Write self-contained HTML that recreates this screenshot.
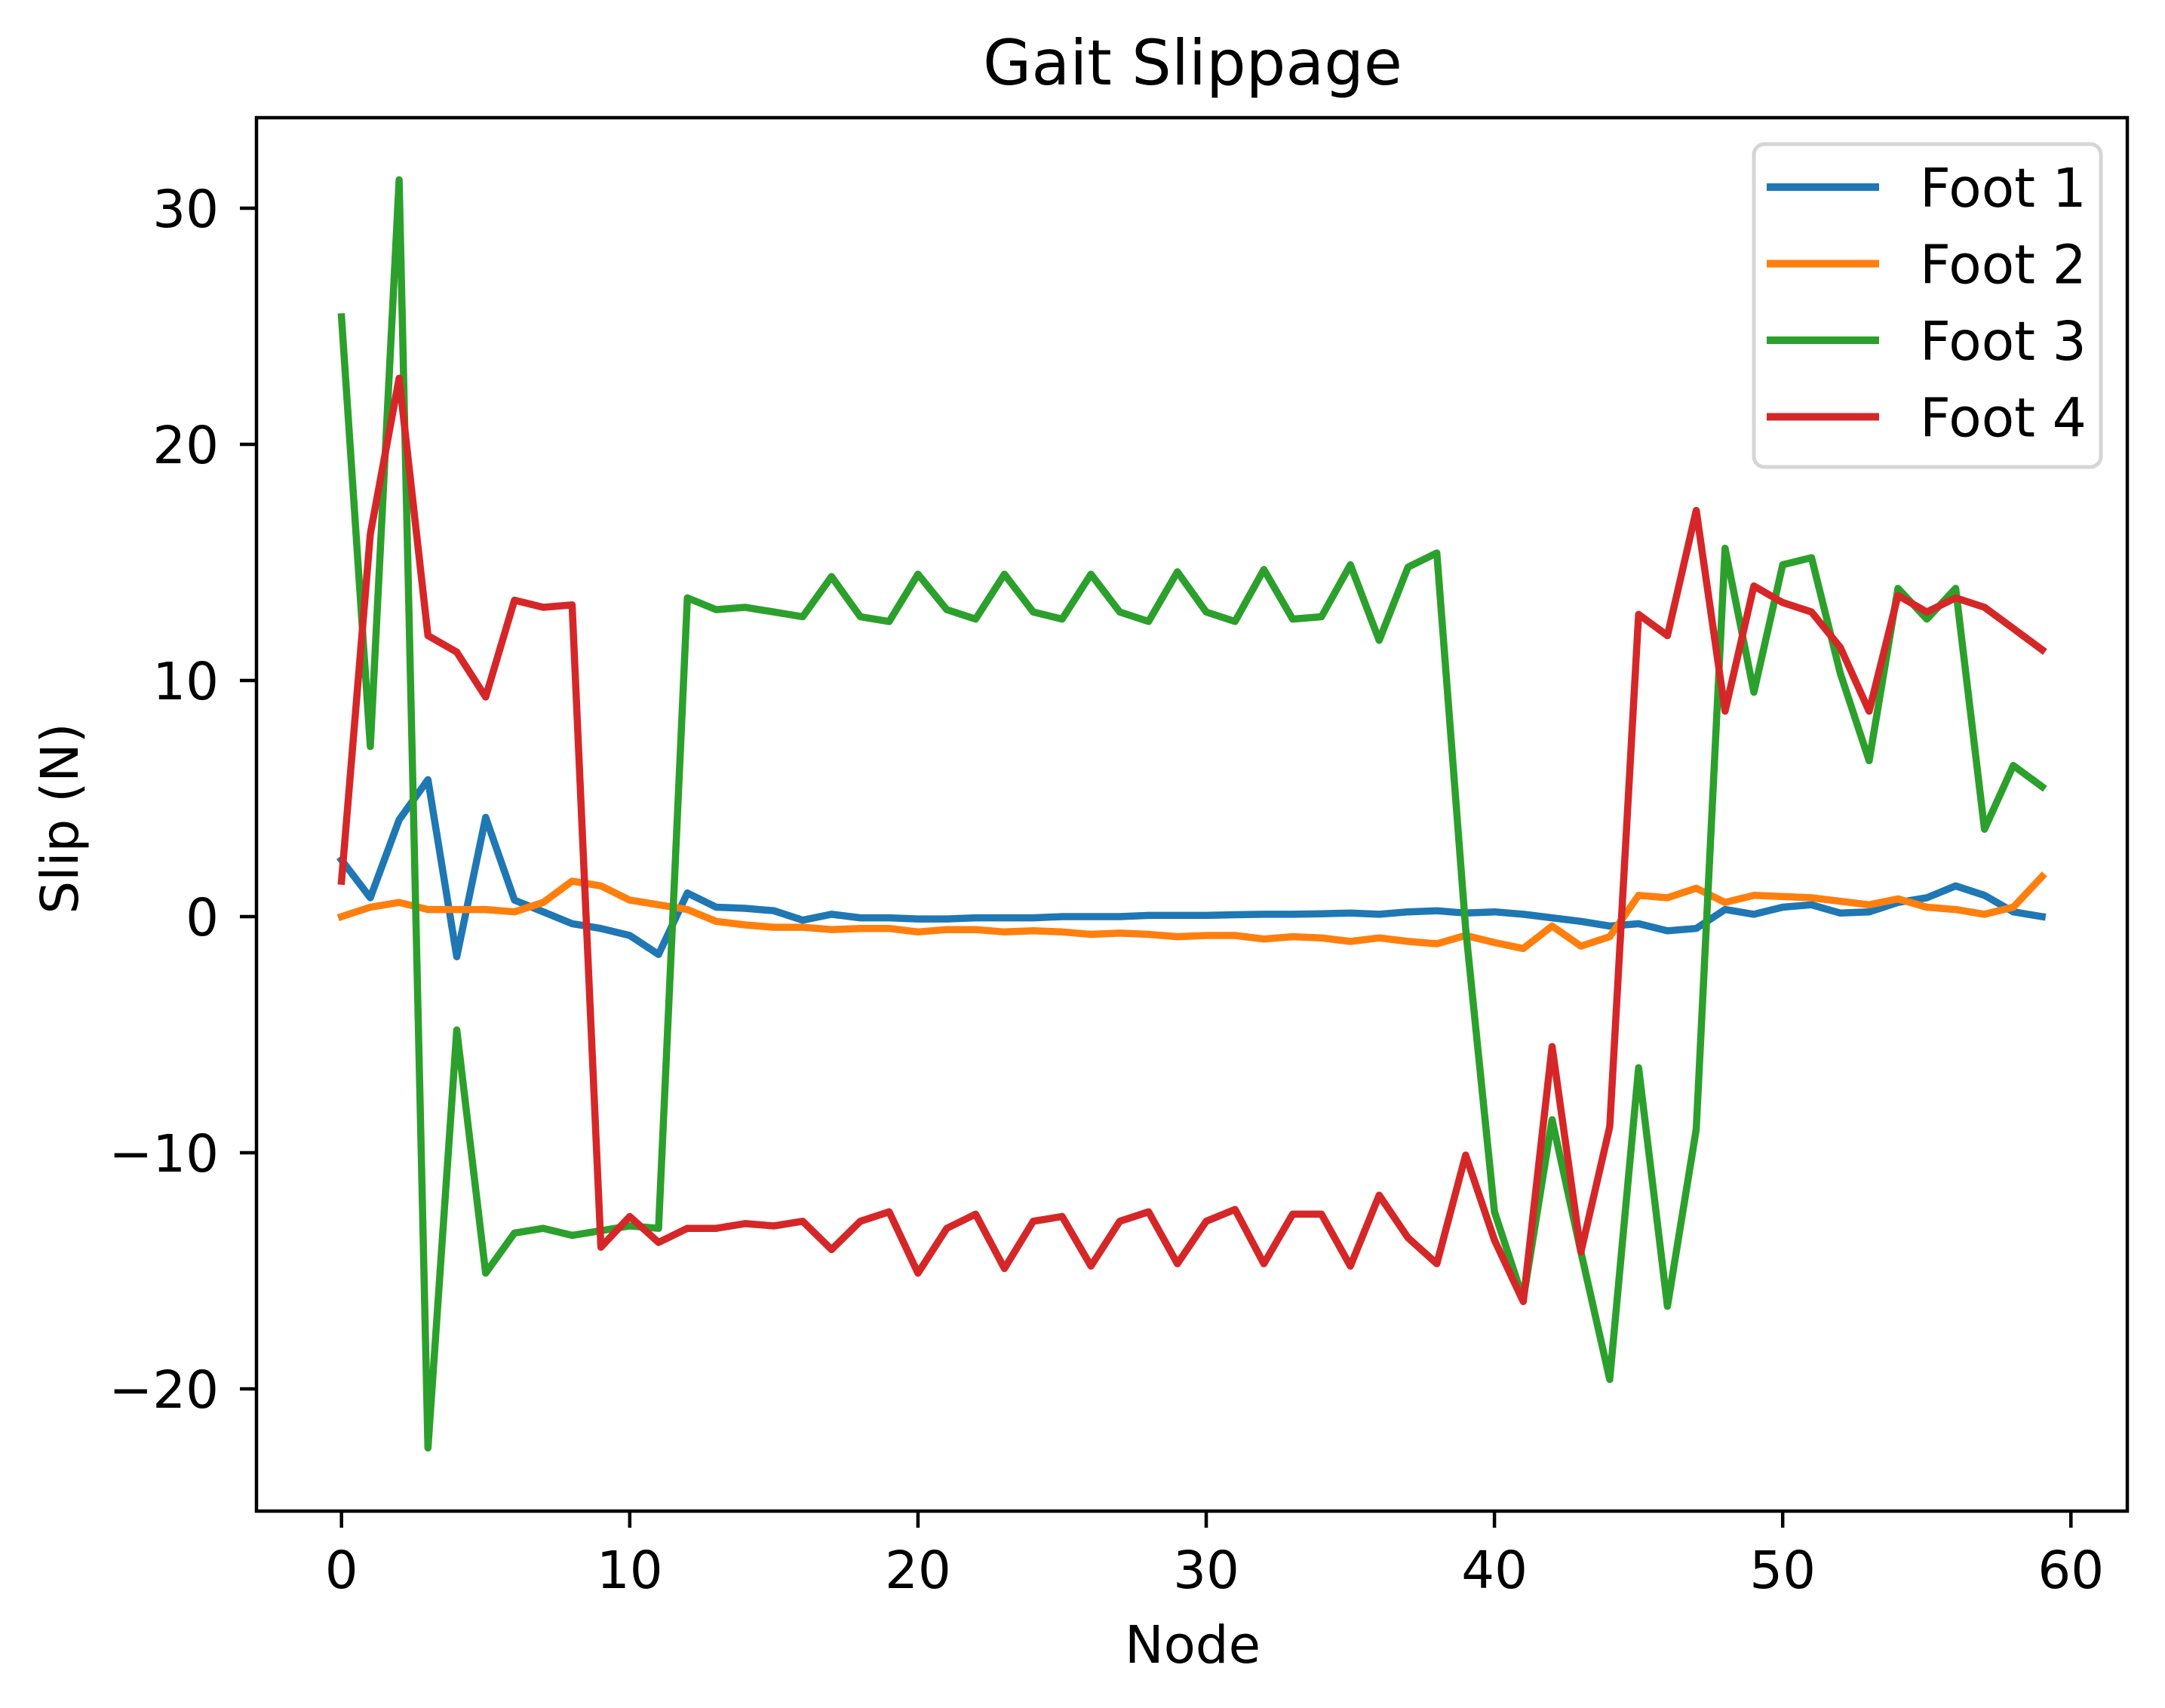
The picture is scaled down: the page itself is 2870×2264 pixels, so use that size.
<!DOCTYPE html>
<html><head><meta charset="utf-8"><style>
html,body{margin:0;padding:0;background:#fff}
svg{display:block}
text{font-family:"DejaVu Sans","Liberation Sans",sans-serif;fill:#000}
</style></head><body>
<svg id="chart" width="2870" height="2264" viewBox="0 0 2870 2264">
<rect x="0" y="0" width="2870" height="2264" fill="#fff"/>
<text x="1581" y="112" font-size="83" text-anchor="middle">Gait Slippage</text>
<g id="plot"></g>
<g id="axes"></g>
<text x="1581" y="2204" font-size="69" text-anchor="middle">Node</text>
<text transform="translate(103,1085) rotate(-90)" font-size="69" text-anchor="middle">Slip (N)</text>
<g id="legend"></g>
</svg>
<script>
const xTicks = [0, 10, 20, 30, 40, 50, 60];
const yTicks = [-20, -10, 0, 10, 20, 30];
const yTickLabels = ["\u221220", "\u221210", "0", "10", "20", "30"];
const seriesNames = ["Foot 1", "Foot 2", "Foot 3", "Foot 4"];
const seriesColors = ["#1f77b4", "#ff7f0e", "#2ca02c", "#d62728"];
const foot1 = [2.4,0.8,4.1,5.8,-1.7,4.2,0.7,0.2,-0.3,-0.5,-0.8,-1.6,1.0,0.4,0.35,0.25,-0.15,0.1,-0.05,-0.05,-0.1,-0.1,-0.05,-0.05,-0.05,0,0,0,0.05,0.05,0.05,0.08,0.1,0.1,0.12,0.15,0.1,0.2,0.25,0.15,0.2,0.1,-0.05,-0.2,-0.4,-0.3,-0.6,-0.5,0.3,0.1,0.4,0.5,0.15,0.2,0.6,0.8,1.3,0.9,0.2,0.0];
const foot2 = [0.0,0.4,0.6,0.3,0.3,0.3,0.2,0.6,1.5,1.3,0.7,0.5,0.3,-0.2,-0.35,-0.45,-0.45,-0.55,-0.5,-0.5,-0.65,-0.55,-0.55,-0.65,-0.6,-0.65,-0.75,-0.7,-0.75,-0.85,-0.8,-0.8,-0.95,-0.85,-0.9,-1.05,-0.9,-1.05,-1.15,-0.8,-1.1,-1.35,-0.4,-1.25,-0.85,0.9,0.8,1.2,0.6,0.9,0.85,0.8,0.65,0.5,0.75,0.4,0.3,0.1,0.4,1.7];
const foot3 = [25.4,7.2,31.2,-22.5,-4.8,-15.1,-13.4,-13.2,-13.5,-13.3,-13.1,-13.2,13.5,13.0,13.1,12.9,12.7,14.4,12.7,12.5,14.5,13.0,12.6,14.5,12.9,12.6,14.5,12.9,12.5,14.6,12.9,12.5,14.7,12.6,12.7,14.9,11.7,14.8,15.4,-0.5,-12.5,-16.2,-8.6,-14.2,-19.6,-6.4,-16.5,-9.0,15.6,9.5,14.9,15.2,10.3,6.6,13.9,12.6,13.9,3.7,6.4,5.5];
const foot4 = [1.5,16.2,22.8,11.9,11.2,9.3,13.4,13.1,13.2,-14.0,-12.7,-13.8,-13.2,-13.2,-13.0,-13.1,-12.9,-14.1,-12.9,-12.5,-15.1,-13.2,-12.6,-14.9,-12.9,-12.7,-14.8,-12.9,-12.5,-14.7,-12.9,-12.4,-14.7,-12.6,-12.6,-14.8,-11.8,-13.6,-14.7,-10.1,-13.7,-16.3,-5.5,-14.2,-8.9,12.8,11.9,17.2,8.7,14.0,13.3,12.9,11.4,8.7,13.6,12.9,13.5,13.1,12.2,11.3];

const NS = "http://www.w3.org/2000/svg";
const L = 340, R = 2820, T = 156, B = 2003;
function xs(v){ return 452.7 + v * 38.21; }
function ys(v){ return 1215 - v * 31.3; }
function mk(tag, attrs, parent){ const e = document.createElementNS(NS, tag); for (const k in attrs) e.setAttribute(k, attrs[k]); parent.appendChild(e); return e; }

const plot = document.getElementById('plot');
const allSeries = [foot1, foot2, foot3, foot4];
allSeries.forEach((s, i) => {
  const pts = s.map((v, j) => xs(j).toFixed(1) + "," + ys(v).toFixed(1)).join(" ");
  const pl = mk('polyline', {points: pts, fill: 'none', stroke: seriesColors[i], 'stroke-width': 9.5, 'stroke-linejoin': 'round', 'stroke-linecap': 'square'}, plot);
  
  
});

const axes = document.getElementById('axes');
const frame = mk('rect', {x: L, y: T, width: R - L, height: B - T, fill: 'none', stroke: '#000', 'stroke-width': 4.5}, axes);


xTicks.forEach(t => {
  const x = xs(t);
  const tk = mk('line', {x1: x, y1: B, x2: x, y2: B + 22, stroke: '#000', 'stroke-width': 4.5}, axes);
  
  
  const tl = mk('text', {x: x, y: B + 102, 'font-size': 69, 'text-anchor': 'middle'}, axes);
  tl.textContent = String(t);
  
  
});
yTicks.forEach((t, i) => {
  const y = ys(t);
  const tk = mk('line', {x1: L - 22, y1: y, x2: L, y2: y, stroke: '#000', 'stroke-width': 4.5}, axes);
  
  
  const tl = mk('text', {x: L - 50, y: y + 25, 'font-size': 69, 'text-anchor': 'end'}, axes);
  tl.textContent = yTickLabels[i];
  
  
});

const lg = document.getElementById('legend');
const box = mk('rect', {x: 2325, y: 191, width: 460, height: 428, rx: 14, fill: '#fff', 'fill-opacity': 0.8, stroke: '#d5d5d5', 'stroke-width': 5}, lg);


seriesNames.forEach((n, i) => {
  const y = 248 + i * 101.5;
  const ln = mk('line', {x1: 2342, y1: y, x2: 2491, y2: y, stroke: seriesColors[i], 'stroke-width': 10}, lg);
  
  
  const tx = mk('text', {x: 2545, y: y + 26, 'font-size': 71}, lg);
  tx.textContent = n;
  
  
});
</script>
</body></html>
